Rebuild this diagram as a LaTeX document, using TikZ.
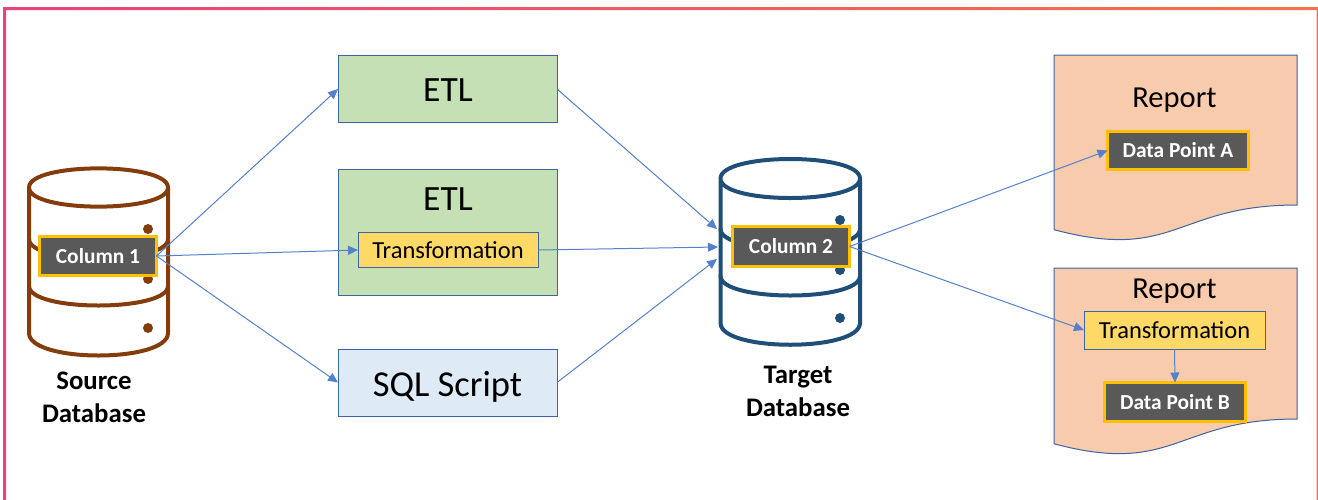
\documentclass[tikz,border=0pt]{standalone}
\usepackage{fontspec}
\setmainfont{Carlito}
\usetikzlibrary{arrows.meta}
\definecolor{conn}{HTML}{5580CC}
\definecolor{edge}{HTML}{3F62A0}
\definecolor{srcbrown}{HTML}{843C0C}
\definecolor{tgtblue}{HTML}{1F4E79}
\definecolor{gold}{HTML}{FFC000}
\definecolor{darkgray}{HTML}{595959}
\definecolor{etlgreen}{HTML}{C5E0B4}
\definecolor{sqlblue}{HTML}{DEEBF7}
\definecolor{repfill}{HTML}{F8CBAD}
\definecolor{transyellow}{HTML}{FFD966}
\definecolor{framel}{HTML}{E8447A}
\definecolor{framer}{HTML}{F2734C}
\tikzset{
  x=1pt,y=-1pt,
  procbox/.style={draw=edge,line width=1pt,outer sep=0pt,inner sep=0pt},
  bigtext/.style={anchor=base,inner sep=0pt,font=\fontsize{#1}{40}\selectfont},
  transbox/.style={draw=edge,line width=1pt,fill=transyellow,outer sep=0pt,inner sep=0pt,font=\fontsize{24.5}{28}\selectfont},
  colbox/.style={draw=gold,line width=3pt,fill=darkgray,text=white,outer sep=0pt,inner sep=0pt,font=\fontsize{21.4}{25}\selectfont\bfseries},
  cyl/.style={line width=4pt,line join=round,fill=white},
  cylline/.style={line width=4pt,line join=round,line cap=round},
  dbdot/.style={circle,inner sep=0pt,minimum size=10pt},
  rep/.style={draw=edge,line width=1pt,fill=repfill},
  captext/.style={anchor=base,inner sep=0pt,font=\fontsize{26.8}{30}\selectfont\bfseries},
  flow/.style={draw=conn,line width=1pt,-{Triangle[length=10pt,width=9pt]}},
}
\begin{document}
\begin{tikzpicture}
\useasboundingbox (0,0) rectangle (1318,499);
\shade[left color=framel,right color=framer,even odd rule] (3,7) rectangle (1318,506) (6,10) rectangle (1316.6,506);

% source database
\draw[cyl,draw=srcbrown] (29,187.5) -- (29,333) .. controls (29,363) and (168,363) .. (168,333) -- (168,187.5)
   .. controls (168,213) and (29,213) .. (29,187.5) .. controls (29,162) and (168,162) .. (168,187.5);
\draw[cylline,draw=srcbrown] (29,239) .. controls (29,265) and (168,265) .. (168,239);
\draw[cylline,draw=srcbrown] (29,286) .. controls (29,312) and (168,312) .. (168,286);
\node[dbdot,fill=srcbrown] (sd1) at (148,229) {};
\node[dbdot,fill=srcbrown] (sd2) at (148,279) {};
\node[dbdot,fill=srcbrown] (sd3) at (148,328) {};

% target database
\draw[cyl,draw=tgtblue] (720.5,178.5) -- (720.5,323) .. controls (720.5,352) and (860,352) .. (860,323) -- (860,178.5)
   .. controls (860,204.5) and (720.5,204.5) .. (720.5,178.5) .. controls (720.5,152.5) and (860,152.5) .. (860,178.5);
\draw[cylline,draw=tgtblue] (720.5,229) .. controls (720.5,255) and (860,255) .. (860,229);
\draw[cylline,draw=tgtblue] (720.5,276) .. controls (720.5,302) and (860,302) .. (860,276);
\node[dbdot,fill=tgtblue] (td1) at (840,220) {};
\node[dbdot,fill=tgtblue] (td2) at (840,270) {};
\node[dbdot,fill=tgtblue] (td3) at (840,318) {};

% reports
\draw[rep] (1054,55) -- (1297,55) -- (1297,205) .. controls (1175.5,205) and (1175.5,262) .. (1054,229.7) -- cycle;
\draw[rep] (1054,268) -- (1297,268) -- (1297,419) .. controls (1175.5,419) and (1175.5,476) .. (1054,443.8) -- cycle;

% process boxes
\node[procbox,fill=etlgreen,minimum width=219pt,minimum height=67pt] (etl1) at (447.5,89) {};
\node[bigtext=35.5] (etl1t) at (448,101) {ETL};
\node[procbox,fill=etlgreen,minimum width=219pt,minimum height=126pt] (etl2) at (447.5,232.5) {};
\node[bigtext=35.5] (etl2t) at (448,210) {ETL};
\node[transbox,minimum width=180pt,minimum height=35pt] (tr1) at (448,250) {Transformation};
\node[procbox,fill=sqlblue,minimum width=219pt,minimum height=67pt] (sql) at (447.5,382.5) {};
\node[bigtext=36.5] (sqlt) at (447.5,396) {SQL Script};

% column boxes
\node[colbox,minimum width=117pt,minimum height=39pt] (c1) at (98,256) {Column 1};
\node[colbox,minimum width=117pt,minimum height=40pt] (c2) at (791,246.5) {Column 2};

% report contents
\node[bigtext=30.5] (r1) at (1174.5,107) {Report};
\node[bigtext=30.5] (r2) at (1174.5,298) {Report};
\node[colbox,minimum width=141pt,minimum height=38pt] (dpa) at (1178,150.5) {Data Point A};
\node[transbox,minimum width=181pt,minimum height=38pt] (tr2) at (1174.5,330) {Transformation};
\node[colbox,minimum width=141pt,minimum height=39pt] (dpb) at (1175,402) {Data Point B};

% captions
\node[captext] (cs1) at (94,389) {Source};
\node[captext] (cs2) at (94,422) {Database};
\node[captext] (ct1) at (798,383) {Target};
\node[captext] (ct2) at (798,416) {Database};

% connectors
\coordinate (t1) at (717,229);
\coordinate (t2) at (718,247);
\coordinate (t3) at (717,259);
\draw[flow] (c1.east) -- (etl1.west);
\draw[flow] (c1.east) -- (tr1.west);
\draw[flow] (c1.east) -- (sql.west);
\draw[flow] (etl1.east) -- (t1);
\draw[flow] (tr1.east) -- (t2);
\draw[flow] (sql.east) -- (t3);
\draw[flow] (c2.east) -- (dpa.west);
\draw[flow] (c2.east) -- (tr2.west);
\draw[flow] (tr2.south) -- (dpb.north);
\end{tikzpicture}
\end{document}
